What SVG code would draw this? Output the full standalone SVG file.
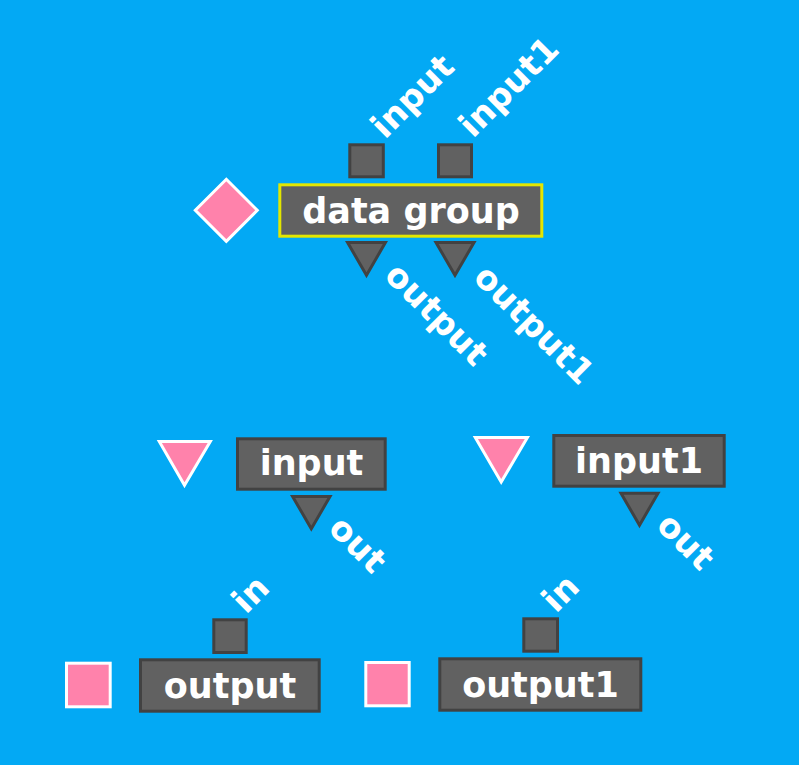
<svg xmlns="http://www.w3.org/2000/svg" width="799" height="765" viewBox="0 0 799 765">
  <style>
    .node { fill: #616161; stroke: #424242; stroke-width: 3; }
    .group { fill: #616161; stroke: #e3e600; stroke-width: 3; }
    .port { fill: #616161; stroke: #424242; stroke-width: 3; }
    .icon { fill: #ff82ab; stroke: #ffffff; stroke-width: 3; }
    .lbl { fill: #ffffff; font-family: "DejaVu Sans", "Liberation Sans", sans-serif; font-weight: bold; font-size: 35px; text-anchor: middle; }
    .plbl { fill: #ffffff; font-family: "DejaVu Sans", "Liberation Sans", sans-serif; font-weight: bold; font-size: 34px; }
  </style>
  <rect x="0" y="0" width="799" height="765" fill="#03a9f4"/>
  <g id="connectors"></g>

  <g id="data-group">
    <polygon class="icon" points="226.3,179.3 257.3,210.3 226.3,241.3 195.3,210.3"/>
    <rect class="group" x="279.8" y="184.8" width="262" height="51.4"/>
    <text class="lbl" x="411" y="223">data group</text>
    <g id="data-group-in-input">
      <rect class="port" x="349.8" y="144.8" width="33.5" height="32"/>
      <text class="plbl" transform="translate(385,140) rotate(-45)">input</text>
    </g>
    <g id="data-group-in-input1">
      <rect class="port" x="438.5" y="144.8" width="33" height="32"/>
      <text class="plbl" transform="translate(473,139) rotate(-45)">input1</text>
    </g>
    <g id="data-group-out-output">
      <polygon class="port" points="347.6,242.5 385.4,242.5 366.5,275.3"/>
      <text class="plbl" transform="translate(383,277) rotate(45)">output</text>
    </g>
    <g id="data-group-out-output1">
      <polygon class="port" points="436,242.5 474,242.5 455,275.3"/>
      <text class="plbl" transform="translate(472,279) rotate(45)">output1</text>
    </g>
  </g>

  <g id="input">
    <polygon class="icon" points="159.3,441.5 210.3,441.5 184.5,485.3"/>
    <rect class="node" x="237.5" y="438.8" width="147.7" height="50.4"/>
    <text class="lbl" x="311.5" y="475">input</text>
    <g id="input-out">
      <polygon class="port" points="292.6,496.5 330,496.5 311.3,528.7"/>
      <text class="plbl" transform="translate(327,530) rotate(45)">out</text>
    </g>
  </g>

  <g id="input1">
    <polygon class="icon" points="475.3,437.5 527.4,437.5 501.2,482"/>
    <rect class="node" x="553.8" y="435.5" width="170.4" height="50.7"/>
    <text class="lbl" x="639" y="473">input1</text>
    <g id="input1-out">
      <polygon class="port" points="621,493.2 658,493.2 639.5,525.2"/>
      <text class="plbl" transform="translate(655,527) rotate(45)">out</text>
    </g>
  </g>

  <g id="output">
    <rect class="icon" x="66.5" y="663.2" width="43.7" height="43.6"/>
    <rect class="node" x="140.5" y="659.8" width="178.7" height="51.4"/>
    <text class="lbl" x="230" y="698">output</text>
    <g id="output-in">
      <rect class="port" x="213.8" y="619.8" width="32.4" height="32.7"/>
      <text class="plbl" transform="translate(246,615) rotate(-45)">in</text>
    </g>
  </g>

  <g id="output1">
    <rect class="icon" x="365.8" y="662.5" width="43.4" height="43.3"/>
    <rect class="node" x="439.8" y="658.8" width="201" height="51.4"/>
    <text class="lbl" x="540.5" y="696.5">output1</text>
    <g id="output1-in">
      <rect class="port" x="523.8" y="618.8" width="33.7" height="32.4"/>
      <text class="plbl" transform="translate(556,614) rotate(-45)">in</text>
    </g>
  </g>
</svg>
